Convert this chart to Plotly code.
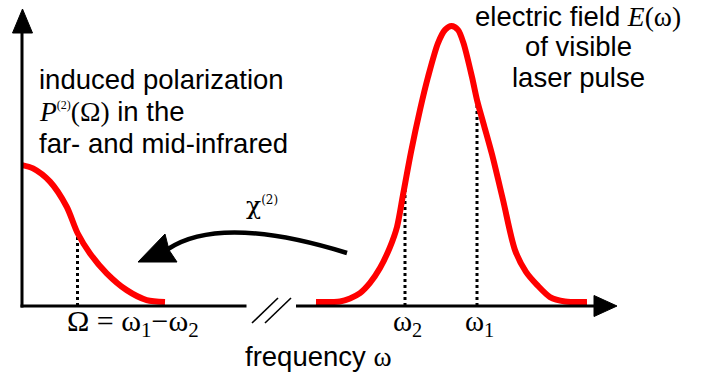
import plotly.graph_objects as go

# ---------------- data (frequency in arbitrary units, amplitude normalised to visible pulse peak) ----
# induced polarization P(2)(Omega) in the far/mid-infrared
p_freq = [22, 33, 50, 66.7, 77.5, 90, 106.7, 126.7, 146.7, 165]
p_amp = [0.496, 0.484, 0.436, 0.345, 0.25, 0.176, 0.104, 0.043, 0.007, 0.0]

# electric field E(omega) of the visible laser pulse
e_freq = [316, 340, 350, 360, 370, 380, 390, 397, 403, 411, 420, 428, 438, 445, 451.5,
          458, 463.5, 472, 477, 484, 492, 503, 515, 526, 537, 550, 565, 587]
e_amp = [0.0, 0.002, 0.013, 0.032, 0.069, 0.123, 0.199, 0.272, 0.388, 0.543, 0.696, 0.815, 0.938, 0.986, 1.0,
         0.986, 0.938, 0.815, 0.732, 0.640, 0.535, 0.370, 0.188, 0.109, 0.062, 0.018, 0.002, 0.0]

# marked frequencies (dotted lines): Omega, omega2, omega1
mark_freq = [77.5, 405, 477]
mark_amp = [0.243, 0.406, 0.732]

# tick-like labels under the axis
label_text = ["Ω = ω<sub>1</sub>−ω<sub>2</sub>", "ω<sub>2</sub>", "ω<sub>1</sub>"]
label_freq = [133, 407, 479]
label_size = [30, 29, 29]

# ---------------- geometry helpers (pixel -> data, for decorations) ----------------
W, H = 705, 376
BASE_PX, SCALE = 302.0, 276.0


def Y(py):
    return (BASE_PX - py) / SCALE


AXIS_Y = Y(306)
RED = "#ff0000"
SANS = "Liberation Sans, Arial, sans-serif"
SERIF = "Liberation Serif, Times New Roman, serif"
GREEK = "DejaVu Serif, Liberation Serif, serif"

fig = go.Figure()

# dotted marker lines
for f, a in zip(mark_freq, mark_amp):
    fig.add_trace(go.Scatter(x=[f, f], y=[AXIS_Y, a], mode="lines",
                             line=dict(color="black", width=3, dash="dot"),
                             hoverinfo="skip"))

fig.add_trace(go.Scatter(x=p_freq, y=p_amp, mode="lines",
                         line=dict(color=RED, width=6, shape="spline", smoothing=0.8),
                         hoverinfo="skip"))
fig.add_trace(go.Scatter(x=e_freq, y=e_amp, mode="lines",
                         line=dict(color=RED, width=6, shape="spline", smoothing=0.8),
                         hoverinfo="skip"))

shapes = []
# y axis with arrow
shapes.append(dict(type="line", x0=22, x1=22, y0=Y(307.5), y1=Y(30),
                   line=dict(color="black", width=3), layer="above"))
shapes.append(dict(type="path", path=f"M 22.5,{Y(9)} L 12.5,{Y(33)} L 32.5,{Y(33)} Z",
                   fillcolor="black", line=dict(color="black", width=1), layer="above"))
# x axis (left part)
shapes.append(dict(type="line", x0=20.5, x1=246.5, y0=AXIS_Y, y1=AXIS_Y,
                   line=dict(color="black", width=3), layer="above"))
# x axis (right part) with arrow
shapes.append(dict(type="line", x0=296, x1=598, y0=AXIS_Y, y1=AXIS_Y,
                   line=dict(color="black", width=3), layer="above"))
shapes.append(dict(type="path", path=f"M 617,{Y(306)} L 594,{Y(295.5)} L 594,{Y(316.5)} Z",
                   fillcolor="black", line=dict(color="black", width=1), layer="above"))
# axis break //
shapes.append(dict(type="line", x0=252, x1=278, y0=Y(323), y1=Y(298),
                   line=dict(color="black", width=1.6), layer="above"))
shapes.append(dict(type="line", x0=265, x1=291, y0=Y(323), y1=Y(298),
                   line=dict(color="black", width=1.6), layer="above"))
# curved chi(2) arrow
shapes.append(dict(type="path", path=f"M 347,{Y(253)} Q 221,{Y(214)} 168,{Y(249)}",
                   line=dict(color="black", width=4.5), layer="above"))
shapes.append(dict(type="path",
                   path=f"M 138,{Y(262)} L 165,{Y(234)} L 169,{Y(250)} L 177,{Y(262)} Z",
                   fillcolor="black", line=dict(color="black", width=1), layer="above"))

ann = []


def txt(x, py, text, size=27.5, family=SANS, xanchor="center"):
    ann.append(dict(x=x, y=Y(py), xref="x", yref="y", text=text, showarrow=False,
                    xanchor=xanchor, yanchor="middle",
                    font=dict(family=family, size=size, color="black")))


ser = f'<span style="font-family:{SERIF}">'
sup2 = '<sup><span style="font-size:12px">(2)</span></sup>'

# left description
txt(37, 79, "induced polarization", xanchor="left")
txt(37, 111, f"{ser}<i>P</i>{sup2}(Ω)</span> in the", xanchor="left")
txt(37, 143, "far- and mid-infrared", xanchor="left")
# right description
txt(578, 16, f"electric field {ser}<i>E</i>(ω)</span>")
txt(578, 46, "of visible")
txt(578, 77, "laser pulse")
# chi(2)
txt(262, 205, f"χ{sup2}", size=25, family=GREEK)
# labels below axis
for t, f, s in zip(label_text, label_freq, label_size):
    txt(f, 323, t, size=s, family=SERIF)
# axis title
txt(318, 356, f"frequency {ser}ω</span>")

fig.update_layout(
    width=W, height=H, margin=dict(l=0, r=0, t=0, b=0),
    paper_bgcolor="white", plot_bgcolor="white", showlegend=False,
    xaxis=dict(range=[0, W], visible=False, fixedrange=True),
    yaxis=dict(range=[Y(H), Y(0)], visible=False, fixedrange=True),
    shapes=shapes, annotations=ann,
)

fig.write_html("out.html", config={"displayModeBar": False, "staticPlot": True},
               post_script="document.body.style.margin='0';document.body.style.overflow='hidden';")
